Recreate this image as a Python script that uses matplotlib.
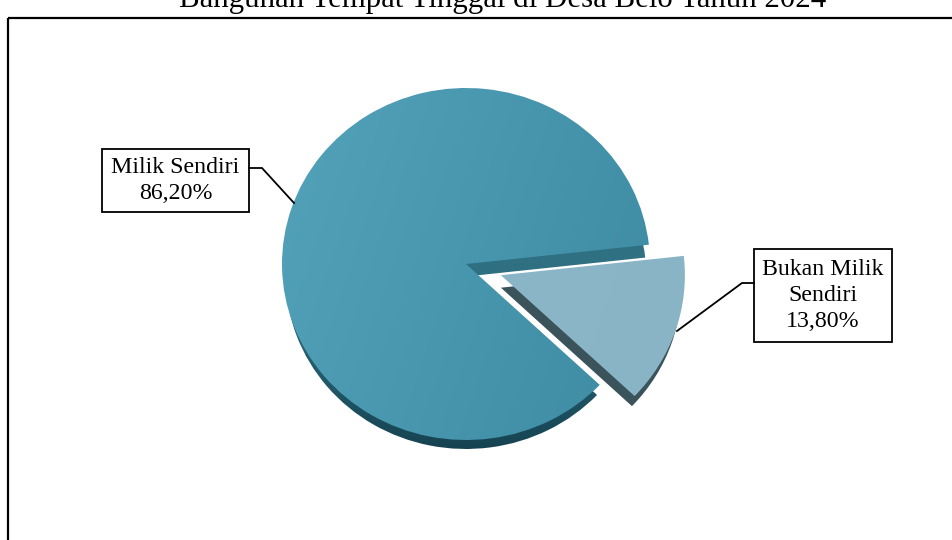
import matplotlib
matplotlib.use("Agg")
import matplotlib.pyplot as plt
from matplotlib.colors import LinearSegmentedColormap
from matplotlib.patches import Rectangle
import numpy as np

plt.rcParams['font.family'] = ['Liberation Serif', 'DejaVu Serif']

title = "Bangunan Tempat Tinggal di Desa Belo Tahun 2024"
categories = ["Milik Sendiri", "Bukan Milik\nSendiri"]
values = [86.20, 13.80]
explode = [0, 0.2]

W, H = 952, 540
CX, CY, RX, RY = 466, 264, 184, 176  # pie centre and radii in pixels
DEPTH = 12.5 / RY
LIM = 1.25


def gradient_fill(ax, wedge, colours, horizontal_mix):
    # diagonal gradient clipped to a wedge
    cmap = LinearSegmentedColormap.from_list("g", colours)
    xx, yy = np.meshgrid(np.linspace(0, 1, 200), np.linspace(0, 1, 200))
    grad = horizontal_mix * xx + (1 - horizontal_mix) * yy
    im = ax.imshow(grad, extent=(-LIM, LIM, -LIM, LIM), origin="upper", cmap=cmap,
                   aspect="auto", zorder=wedge.get_zorder())
    im.set_clip_path(wedge)


def draw_pie(ax, center, radius, main_colours, slice_colours, mix, zorder):
    wedges, _ = ax.pie(values, explode=explode, startangle=6.3, center=center, radius=radius,
                       colors=["none", "none"], wedgeprops={"linewidth": 0})
    wedges[0].set_zorder(zorder)
    wedges[1].set_zorder(zorder + 2)
    gradient_fill(ax, wedges[0], main_colours, mix)
    gradient_fill(ax, wedges[1], slice_colours, mix)


fig = plt.figure(figsize=(W / 100, H / 100), dpi=100)

# overlay in pixel coordinates for frame, labels and leader lines
overlay = fig.add_axes([0, 0, 1, 1], zorder=3)
overlay.set_xlim(0, W)
overlay.set_ylim(H, 0)
overlay.axis("off")
overlay.patch.set_alpha(0)

overlay.add_patch(Rectangle((8, 18), W + 20, H + 20, fill=False, edgecolor="black", linewidth=1.6))
overlay.text(503, 7, title, ha="center", va="baseline", fontsize=22.2, color="black", clip_on=False)

overlay.plot([249, 262, 294], [168, 168, 203], color="black", linewidth=1.3)
overlay.plot([754, 742, 677], [283, 283, 331], color="black", linewidth=1.3)

boxes = [(102, 149, 147, 63), (754, 249, 138, 93)]
for (x, y, w, h), cat, val in zip(boxes, categories, values):
    overlay.add_patch(Rectangle((x, y), w, h, facecolor="white", edgecolor="black", linewidth=1.3))
    label = f"{cat}\n{val:.2f}".replace(".", ",") + "%"
    overlay.text(x + w / 2, y + h / 2, label, ha="center", va="center", fontsize=17.2,
                 linespacing=1.32, color="black")

ax_w = 2 * LIM * RX
ax_h = 2 * LIM * RY
ax = fig.add_axes([(CX - ax_w / 2) / W, 1 - (CY + ax_h / 2) / H, ax_w / W, ax_h / H], zorder=2)

draw_pie(ax, (0, -DEPTH), 0.98, ["#2f7183", "#2f7183", "#2f7183", "#235b6b", "#103846"],
         ["#3b535b", "#3b535b"], 0.0, 1)
draw_pie(ax, (0, 0), 1, ["#55a5bc", "#3b889f"], ["#8cb8c9", "#88b4c6"], 0.75, 5)

ax.set_aspect("auto")
ax.set_xlim(-LIM, LIM)
ax.set_ylim(-LIM, LIM)
ax.axis("off")
ax.patch.set_alpha(0)

fig.savefig("out.png", dpi=100)
